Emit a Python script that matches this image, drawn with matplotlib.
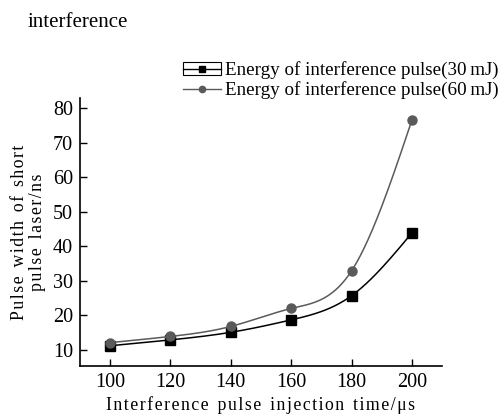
import numpy as np
import matplotlib.pyplot as plt
from matplotlib.patches import Rectangle
from matplotlib.legend_handler import HandlerTuple

plt.rcParams['font.family'] = ['Liberation Serif', 'DejaVu Serif']

t = [100, 120, 140, 160, 180, 200]
e30 = [11.2, 12.9, 15.1, 18.7, 25.7, 43.9]
e60 = [12.1, 13.9, 16.8, 22.0, 32.9, 76.6]
xticks = [100, 120, 140, 160, 180, 200]
yticks = [10, 20, 30, 40, 50, 60, 70, 80]


def spline(x, y, n=200):
    # natural cubic spline, only for a smooth drawn line
    x = np.asarray(x, float)
    y = np.asarray(y, float)
    k = len(x)
    h = np.diff(x)
    A = np.zeros((k, k))
    r = np.zeros(k)
    A[0, 0] = A[-1, -1] = 1
    for i in range(1, k - 1):
        A[i, i - 1] = h[i - 1]
        A[i, i] = 2 * (h[i - 1] + h[i])
        A[i, i + 1] = h[i]
        r[i] = 6 * ((y[i + 1] - y[i]) / h[i] - (y[i] - y[i - 1]) / h[i - 1])
    M = np.linalg.solve(A, r)
    xs = np.linspace(x[0], x[-1], n)
    j = np.clip(np.searchsorted(x, xs) - 1, 0, k - 2)
    a = x[j + 1] - xs
    b = xs - x[j]
    hj = h[j]
    ys = (M[j] * a ** 3 + M[j + 1] * b ** 3) / (6 * hj) \
        + (y[j] / hj - M[j] * hj / 6) * a + (y[j + 1] / hj - M[j + 1] * hj / 6) * b
    return xs, ys


def tracked(s):
    # letter-spaced text like the typeset original
    lines = []
    for line in s.split('\n'):
        words = ['\u200a'.join(w) for w in line.split(' ')]
        lines.append('\u2002'.join(words))
    return '\n'.join(lines)


fig = plt.figure(figsize=(4.99, 4.17), dpi=100)
ax = fig.add_axes([0.160, 0.122, 0.726, 0.643])

c30 = 'black'
c60 = '#5a5a5a'
xs, ys = spline(t, e30)
ax.plot(xs, ys, color=c30, lw=1.1)
ax.plot(t, e30, 's', color=c30, ms=6.5)
xs, ys = spline(t, e60)
ax.plot(xs, ys, color=c60, lw=1.1)
ax.plot(t, e60, 'o', color=c60, ms=6.5)

ax.set_xlim(90, 210)
ax.set_ylim(5.3, 83)
ax.set_xticks(xticks)
ax.set_yticks(yticks)
ax.tick_params(direction='in', length=5, width=1, labelsize=14.5, pad=5)
for s in ['top', 'right']:
    ax.spines[s].set_visible(False)
for s in ['left', 'bottom']:
    ax.spines[s].set_linewidth(1.2)

ax.set_xlabel(tracked('Interference pulse injection time/μs'),
              fontsize=12.8, labelpad=3)
ax.set_ylabel(tracked('Pulse width of short\npulse laser/ns'),
              fontsize=12.8, labelpad=5, linespacing=1.1)

h30 = (Rectangle((0, 0), 1, 1, facecolor='none', edgecolor='black', lw=0.8),
       plt.Line2D([], [], color=c30, marker='s', ms=5, lw=1))
h60 = plt.Line2D([], [], color=c60, marker='o', ms=4.5, lw=1)
fig.legend([h30, h60],
           ['Energy of interference pulse(30\u2009mJ)',
            'Energy of interference pulse(60\u2009mJ)'],
           handler_map={tuple: HandlerTuple(ndivide=1)},
           loc='upper right', bbox_to_anchor=(1.0, 0.853), frameon=False,
           fontsize=13.7, handlelength=2.0, handleheight=0.6,
           handletextpad=0.25, labelspacing=0.12,
           borderpad=0, borderaxespad=0)

fig.text(0.056, 0.945, 'interference', fontsize=15, va='center', ha='left')

fig.savefig('out.png', dpi=100)
